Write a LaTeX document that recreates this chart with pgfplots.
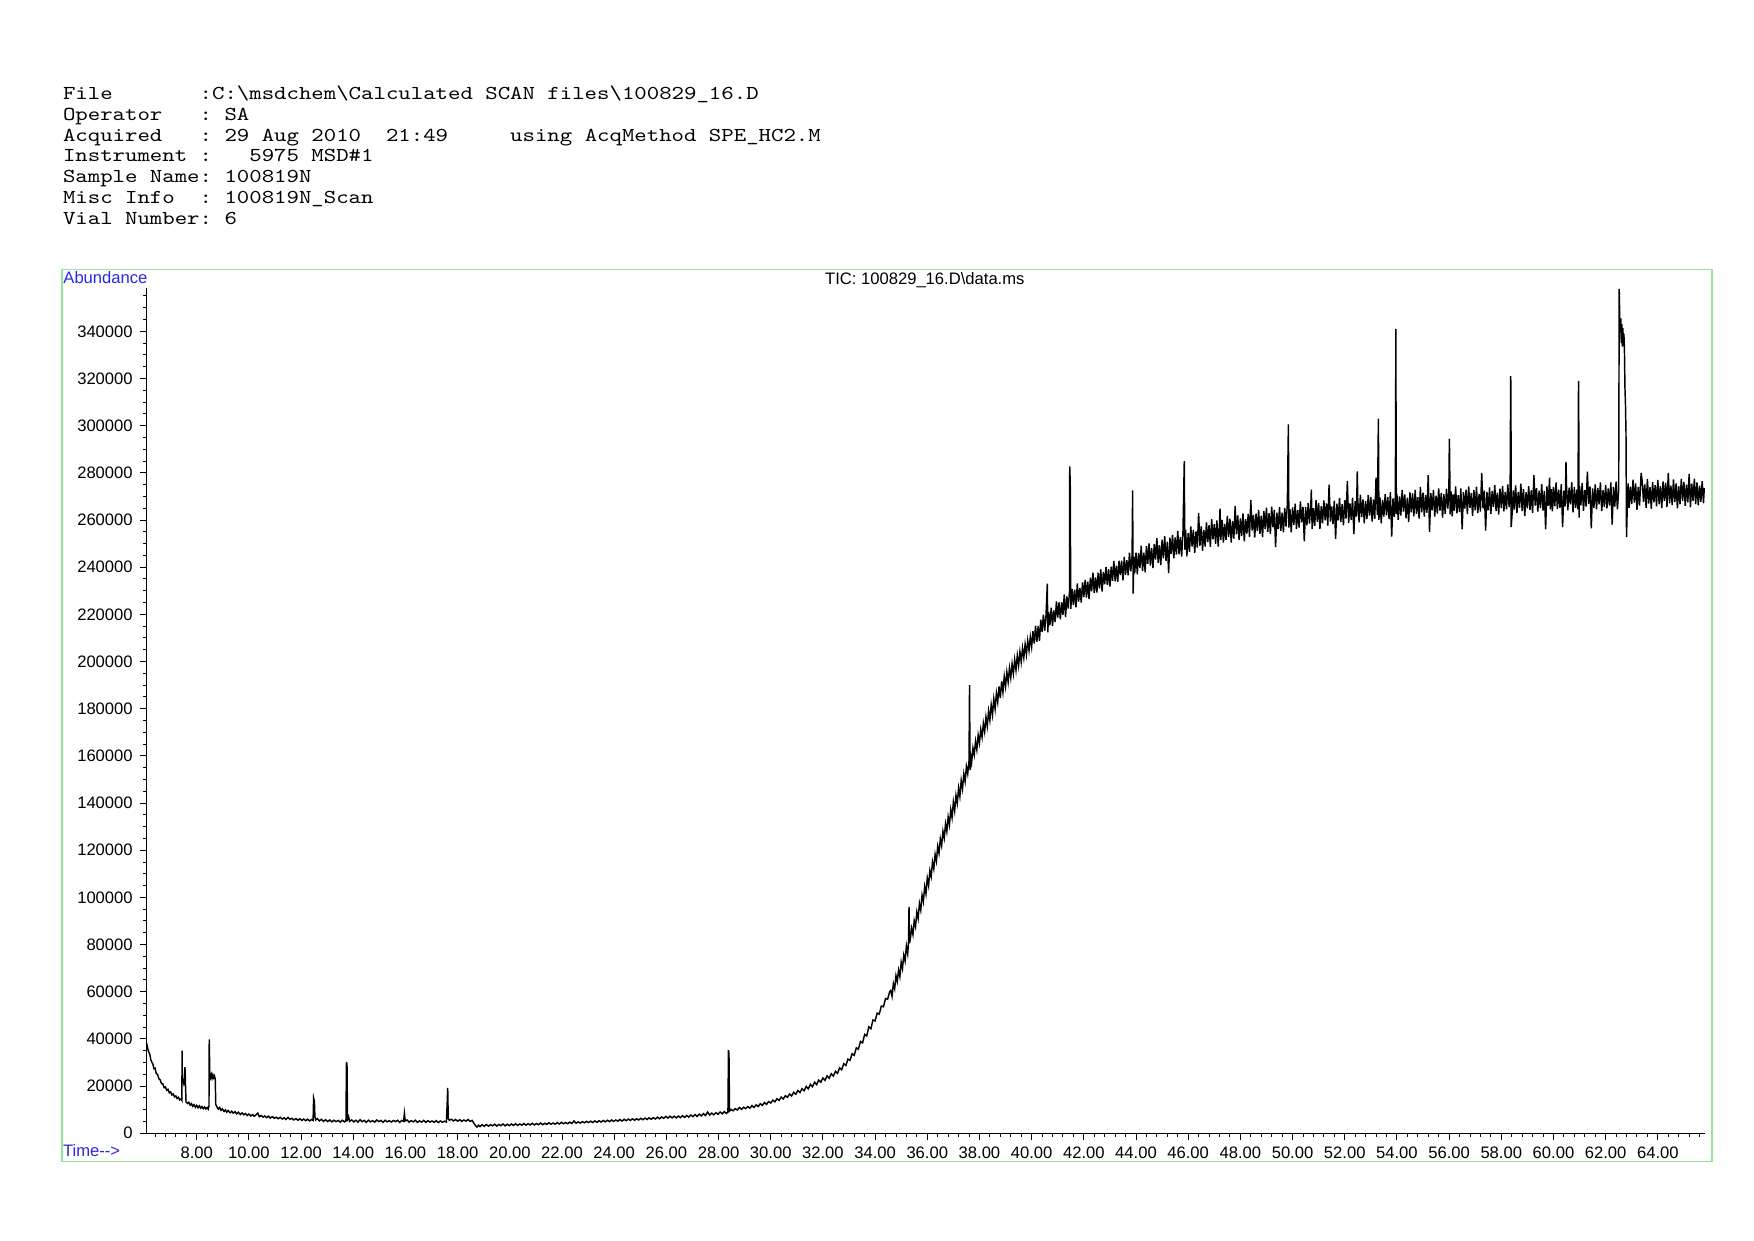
\documentclass[border=0pt]{standalone}
\usepackage{pgfplots}
\pgfplotsset{compat=1.18}
\usepackage{fontspec}
\setmainfont{Liberation Sans}

\definecolor{frameGreen}{RGB}{150,228,150}
\definecolor{lblBlue}{RGB}{40,40,225}

\newcommand{\hdr}[1]{\scalebox{1.2}[1.0]{\ttfamily\fontsize{9.5}{10}\selectfont #1}}

\begin{document}
\begin{tikzpicture}[x=1mm,y=1mm]
% page area (A4 landscape)
\path (0,0) rectangle (297,210);

% header block
\begin{scope}[every node/.style={anchor=base west, inner sep=0pt}]
\node at (10.6,193.2) {\hdr{File~~~~~~~:C:\textbackslash msdchem\textbackslash Calculated~SCAN~files\textbackslash 100829\_16.D}};
\node at (10.6,189.66) {\hdr{Operator~~~:~SA}};
\node at (10.6,186.12) {\hdr{Acquired~~~:~29~Aug~2010~~21:49~~~~~using~AcqMethod~SPE\_HC2.M}};
\node at (10.6,182.58) {\hdr{Instrument~:~~~5975~MSD\#1}};
\node at (10.6,179.04) {\hdr{Sample~Name:~100819N}};
\node at (10.6,175.50) {\hdr{Misc~Info~~:~100819N\_Scan}};
\node at (10.6,171.96) {\hdr{Vial~Number:~6}};
\end{scope}

% green frame
\draw[frameGreen, line width=0.6pt] (10.5,13.38) rectangle (289.89,164.42);

\node[anchor=base west, inner sep=0pt, text=lblBlue, font=\fontsize{8}{9.6}\selectfont] at (10.67,162.0) {Abundance};
\node[anchor=base west, inner sep=0pt, text=lblBlue, font=\fontsize{8}{9.6}\selectfont] at (10.62,14.22) {Time-{}-{}>};
\node[anchor=base, inner sep=0pt, font=\fontsize{8}{9.6}\selectfont] at (156.6,161.9) {TIC: 100829\_16.D\textbackslash data.ms};

\begin{axis}[
  at={(24.81mm,18.12mm)}, anchor=south west,
  scale only axis, width=263.9mm, height=143.08mm,
  xmin=6.076, xmax=65.81, ymin=0, ymax=358300,
  axis lines=left, axis line style={-, line width=0.5pt},
  tick align=outside,
  major tick length=1.1mm, minor tick length=0.6mm,
  every tick/.style={black, line width=0.45pt},
  xtick={8,10,...,64},
  minor xtick={6.4,6.8,...,65.6},
  ytick={0,20000,...,340000},
  minor ytick={5000,10000,...,355000},
  scaled y ticks=false,
  /pgf/number format/assume math mode=true,
  tick label style={font=\fontsize{8}{9.6}\selectfont},
  xticklabel style={/pgf/number format/.cd, fixed, fixed zerofill, precision=2},
  yticklabel style={/pgf/number format/.cd, fixed, 1000 sep={}},
  clip=false,
]
\addplot[black, line width=0.7pt, mark=none] coordinates {
(6.08,38200) (6.12,36000) (6.16,34500) (6.20,33600) (6.24,31200) (6.28,30100) (6.32,29300) (6.36,27400)
(6.40,27600) (6.45,25300) (6.50,24900) (6.55,23100) (6.60,22600) (6.65,21000) (6.70,20900) (6.75,19300)
(6.80,19600) (6.85,18200) (6.90,18600) (6.95,17100) (7.00,17500) (7.05,16200) (7.10,16600) (7.15,15400)
(7.20,15800) (7.25,14700) (7.30,15200) (7.35,14100) (7.40,14600) (7.43,14000) (7.44,35000) (7.45,21500)
(7.48,22300) (7.51,20800) (7.53,21600) (7.55,28000) (7.57,20500) (7.59,13200) (7.65,12600) (7.70,13100)
(7.75,11900) (7.80,12500) (7.85,11400) (7.90,12100) (7.95,11000) (8.00,11800) (8.05,10800) (8.10,11600)
(8.15,10600) (8.20,11300) (8.25,10400) (8.30,11100) (8.35,10300) (8.40,10900) (8.44,10200) (8.47,11500)
(8.48,39800) (8.50,25600) (8.53,23600) (8.56,24900) (8.59,23300) (8.62,24700) (8.65,23500) (8.68,24300)
(8.71,22900) (8.73,12200) (8.78,11000) (8.83,10200) (8.88,10900) (8.93,9700) (8.98,10300) (9.05,9200)
(9.10,9900) (9.15,8900) (9.20,9600) (9.28,8700) (9.34,9300) (9.40,8500) (9.47,9100) (9.53,8200)
(9.60,8900) (9.67,7900) (9.74,8600) (9.80,7800) (9.87,8300) (9.94,7500) (10.00,8100) (10.07,7300)
(10.14,7900) (10.20,7200) (10.27,7700) (10.34,8500) (10.40,7000) (10.47,7500) (10.54,6800) (10.61,7300)
(10.68,6600) (10.75,7200) (10.82,6400) (10.90,7000) (10.97,6300) (11.05,6800) (11.12,6100) (11.20,6700)
(11.28,6000) (11.35,6500) (11.42,5800) (11.50,6700) (11.57,5900) (11.65,6300) (11.72,5600) (11.80,6200)
(11.88,5500) (11.95,6100) (12.03,5400) (12.10,6000) (12.18,5300) (12.25,5900) (12.33,5200) (12.40,5800)
(12.46,5400) (12.48,14900) (12.51,13500) (12.53,7000) (12.56,5600) (12.62,6200) (12.70,5200) (12.78,5900)
(12.86,5000) (12.94,5700) (13.02,4900) (13.10,5600) (13.18,4800) (13.26,5500) (13.34,4900) (13.42,5400)
(13.50,4700) (13.58,5500) (13.66,4800) (13.72,5300) (13.74,30200) (13.76,29000) (13.78,5900) (13.82,7000)
(13.86,5000) (13.94,5600) (14.02,4800) (14.10,5500) (14.18,4700) (14.26,5700) (14.34,4900) (14.42,5400)
(14.50,4600) (14.58,5500) (14.66,4800) (14.74,5300) (14.82,4700) (14.90,5600) (14.98,4900) (15.06,5400)
(15.14,4600) (15.22,5500) (15.30,4800) (15.38,5300) (15.46,4700) (15.54,5400) (15.62,4900) (15.70,5500)
(15.78,4600) (15.86,5400) (15.93,5000) (15.96,8400) (15.99,5200) (16.06,5600) (16.14,4700) (16.22,5300)
(16.30,4800) (16.38,5500) (16.46,4600) (16.54,5200) (16.62,4700) (16.70,5400) (16.78,4600) (16.86,5300)
(16.94,4700) (17.02,5200) (17.10,4600) (17.18,5300) (17.26,4500) (17.34,5200) (17.42,4600) (17.50,5100)
(17.57,4700) (17.60,12800) (17.62,19200) (17.64,6200) (17.68,5500) (17.76,5900) (17.84,5200) (17.92,5800)
(18.00,5100) (18.08,5700) (18.16,5000) (18.24,5600) (18.32,5100) (18.40,5800) (18.48,5000) (18.56,5400)
(18.62,4200) (18.68,3300) (18.74,2600) (18.80,3400) (18.86,2800) (18.94,3600) (19.02,2900) (19.10,3700)
(19.18,3000) (19.26,3600) (19.34,3100) (19.42,3800) (19.50,3000) (19.58,3700) (19.66,3200) (19.74,3900)
(19.82,3100) (19.90,3800) (19.98,3200) (20.06,3900) (20.14,3300) (20.22,4000) (20.30,3300) (20.38,3900)
(20.46,3400) (20.54,4100) (20.62,3400) (20.70,4000) (20.78,3500) (20.86,4200) (20.94,3500) (21.02,4100)
(21.10,3600) (21.18,4300) (21.26,3600) (21.34,4200) (21.42,3700) (21.50,4400) (21.58,3800) (21.66,4300)
(21.74,3800) (21.82,4500) (21.90,3900) (21.98,4600) (22.06,4000) (22.14,4500) (22.22,4000) (22.30,4700)
(22.38,4100) (22.46,5200) (22.54,4200) (22.62,4800) (22.70,4300) (22.78,4900) (22.86,4400) (22.94,5000)
(23.02,4500) (23.10,5100) (23.18,4500) (23.26,5200) (23.34,4600) (23.42,5300) (23.50,4700) (23.58,5400)
(23.66,4800) (23.74,5500) (23.82,4900) (23.90,5600) (23.98,5000) (24.06,5600) (24.14,5100) (24.22,5800)
(24.30,5100) (24.38,5900) (24.46,5300) (24.54,6000) (24.62,5400) (24.70,6100) (24.78,5500) (24.86,6100)
(24.94,5600) (25.02,6300) (25.10,5700) (25.18,6400) (25.26,5800) (25.34,6500) (25.42,5900) (25.50,6600)
(25.58,6000) (25.66,6800) (25.74,6100) (25.82,6900) (25.90,6300) (25.98,7100) (26.06,6400) (26.14,7200)
(26.22,6500) (26.30,7200) (26.38,6500) (26.46,7300) (26.54,6600) (26.62,7400) (26.70,6700) (26.78,7500)
(26.86,6800) (26.94,7700) (27.02,7000) (27.10,7900) (27.18,7100) (27.26,8100) (27.34,7300) (27.42,8300)
(27.50,7500) (27.58,9000) (27.66,7700) (27.74,8500) (27.82,7800) (27.90,8700) (27.98,8000) (28.06,9000)
(28.14,8200) (28.22,9100) (28.30,8400) (28.36,9000) (28.38,35200) (28.40,33800) (28.42,9400) (28.48,10100)
(28.56,9500) (28.64,10400) (28.72,9800) (28.80,10900) (28.88,10100) (28.96,11000) (29.04,10400) (29.12,11300)
(29.20,10600) (29.28,11700) (29.36,10900) (29.44,12000) (29.52,11300) (29.60,12500) (29.68,11800) (29.76,13000)
(29.84,12200) (29.92,13400) (30.00,12800) (30.08,14000) (30.16,13300) (30.24,14600) (30.32,13900) (30.40,15300)
(30.48,14500) (30.56,15900) (30.64,15200) (30.72,16600) (30.80,15800) (30.88,17300) (30.96,16500) (31.04,18100)
(31.12,17200) (31.20,18900) (31.28,18000) (31.36,19800) (31.44,18800) (31.52,20700) (31.60,19700) (31.68,21600)
(31.76,20600) (31.84,22500) (31.92,21600) (32.00,23400) (32.08,22400) (32.16,24300) (32.24,23300) (32.32,25200)
(32.40,24200) (32.48,26200) (32.56,25400) (32.64,27700) (32.72,26900) (32.80,29500) (32.88,28700) (32.96,31400)
(33.04,30900) (33.12,33700) (33.20,33000) (33.28,36200) (33.36,35600) (33.44,38900) (33.52,38300) (33.60,41900)
(33.68,41200) (33.76,45100) (33.84,44300) (33.92,48000) (34.00,47600) (34.08,50900) (34.16,50500) (34.24,53900)
(34.32,53600) (34.40,57100) (34.48,56800) (34.56,60000)
(34.60,60500) (34.65,58000) (34.70,63400) (34.75,61200) (34.80,66800) (34.85,64300) (34.90,69100) (34.95,66400)
(35.00,72600) (35.05,69800) (35.10,75500) (35.15,73000) (35.20,79400) (35.25,76100) (35.28,81000) (35.30,96000)
(35.32,80500) (35.35,82300) (35.40,86900) (35.45,84200) (35.50,90100) (35.55,87600) (35.60,93800) (35.65,91000)
(35.70,97400) (35.75,94600) (35.80,100900) (35.85,98100) (35.90,104600) (35.95,101500) (36.00,108200) (36.05,105000)
(36.10,111400) (36.15,108800) (36.20,115000) (36.25,112100) (36.30,118200) (36.35,115300) (36.40,121600) (36.45,118700)
(36.50,124800) (36.55,121900) (36.60,128000) (36.65,125100) (36.70,131200) (36.75,127900) (36.80,134100) (36.85,130700)
(36.90,137200) (36.95,133800) (37.00,140500) (37.05,136600) (37.10,143200) (37.15,139900) (37.20,146400) (37.25,142800)
(37.30,149600) (37.35,146000) (37.40,152300) (37.45,149100) (37.50,155500) (37.55,152400) (37.60,158000) (37.62,190000)
(37.64,154000) (37.67,159500) (37.70,157200) (37.75,163300) (37.80,160400) (37.85,166200) (37.90,162600) (37.95,168800)
(38.00,165400) (38.05,171200) (38.10,167900) (38.15,173800) (38.20,170200) (38.25,176500) (38.30,172600) (38.35,179000)
(38.40,175100) (38.45,181600) (38.50,177400) (38.55,184200) (38.60,179900) (38.65,186600) (38.70,182800) (38.75,189400)
(38.80,184500) (38.85,191600) (38.90,187000) (38.95,193700) (39.00,189400) (39.05,195500) (39.10,191300) (39.15,197200)
(39.20,193100) (39.25,199000) (39.30,194800) (39.35,200800) (39.40,196400) (39.45,202600) (39.50,198300) (39.55,204100)
(39.60,199800) (39.65,205700) (39.70,201600) (39.75,207300) (39.80,203000) (39.85,208900) (39.90,204700) (39.95,210400)
(40.00,206200)
(40.05,212900) (40.10,207600) (40.15,215200) (40.20,208300) (40.25,215100) (40.30,208800) (40.35,217700) (40.40,212500)
(40.45,219900) (40.50,213000) (40.55,219400) (40.60,233000) (40.62,212400) (40.65,221000) (40.70,215400) (40.75,222800)
(40.80,215100) (40.85,221700) (40.90,216700) (40.95,225500) (41.00,218600) (41.05,225100) (41.10,217900) (41.15,225200)
(41.20,219800) (41.25,228400) (41.30,218800) (41.35,227600) (41.40,222500) (41.45,229500) (41.46,282700) (41.48,275700)
(41.50,222300) (41.55,230800) (41.60,223900) (41.65,230500) (41.70,223000) (41.75,233100) (41.80,225400) (41.85,231200)
(41.90,225000) (41.95,233500) (42.00,227300) (42.05,234600) (42.10,227100) (42.15,233900) (42.20,226500) (42.25,235500)
(42.30,229800) (42.35,237700) (42.40,229000) (42.45,235700) (42.50,229200) (42.55,237700) (42.60,231000) (42.65,239100)
(42.70,229700) (42.75,238000) (42.80,232700) (42.85,240100) (42.90,232500) (42.95,239100) (43.00,231800) (43.05,240200)
(43.10,234200) (43.15,242700) (43.20,234000) (43.25,240600) (43.30,233800) (43.35,242700) (43.40,236700) (43.45,242800)
(43.50,234400) (43.55,244400) (43.60,236700) (43.65,243000) (43.70,236500) (43.75,246200) (43.80,238200) (43.85,245100)
(43.87,272600) (43.89,228800) (43.92,244500) (43.95,237400) (44.00,246200) (44.05,237000) (44.10,246000) (44.15,239600)
(44.20,249100) (44.25,238500) (44.30,246200) (44.35,237800) (44.40,248900) (44.45,241400) (44.50,250100) (44.55,240700)
(44.60,248200) (44.65,239600) (44.70,249900) (44.75,243200) (44.80,252300) (44.85,241800) (44.90,249300) (44.95,240900)
(45.00,251700) (45.05,243800) (45.10,253200) (45.15,242700) (45.20,250800) (45.25,237500) (45.30,252500) (45.35,245700)
(45.40,253700) (45.45,243800) (45.50,252600) (45.55,245300) (45.60,255400) (45.65,245400) (45.70,252700) (45.75,244500)
(45.80,255000) (45.85,285000) (45.87,247400) (45.90,255900) (45.95,244600) (46.00,254400) (46.05,246500) (46.10,257300)
(46.15,248700) (46.20,255800) (46.25,246100) (46.30,255200) (46.35,248300) (46.40,263000) (46.45,249100) (46.50,257300)
(46.55,246900) (46.60,255800) (46.65,248700) (46.70,259000) (46.75,250600) (46.80,257800) (46.85,248600) (46.90,260400)
(46.95,251800) (47.00,258200) (47.05,249900) (47.10,259800) (47.15,248700) (47.20,258400) (47.22,264800) (47.25,251600)
(47.30,260000) (47.35,250400) (47.40,258300) (47.45,251600) (47.50,261700) (47.55,252900) (47.60,260600) (47.65,250400)
(47.70,259500) (47.75,252100) (47.80,266000) (47.85,253900) (47.90,261900) (47.95,251500) (48.00,260700) (48.05,253200)
(48.10,262800) (48.15,251000) (48.20,260400) (48.25,254200) (48.30,262600) (48.35,252900) (48.40,268500) (48.45,255500)
(48.50,262200) (48.55,252600) (48.60,262700) (48.65,255300) (48.70,264300) (48.75,254100) (48.80,261800) (48.85,252800)
(48.90,263900) (48.95,256200) (49.00,265200) (49.05,255000) (49.10,262900) (49.15,254100) (49.20,265700) (49.25,256900)
(49.30,264300) (49.35,248500) (49.40,263100) (49.45,256200) (49.50,265400) (49.55,255400) (49.60,263100) (49.65,254800)
(49.70,265100) (49.75,257200) (49.80,266900) (49.84,300500) (49.86,256800) (49.90,264600) (49.95,254800) (50.00,265300)
(50.05,258000) (50.10,266900) (50.15,256200) (50.20,264200) (50.25,256800) (50.30,267900) (50.35,259000) (50.40,265600)
(50.45,251000) (50.50,265400) (50.55,257700) (50.60,267100) (50.65,258500) (50.70,266500) (50.72,272900) (50.75,256300)
(50.80,265000) (50.85,257500) (50.90,268400) (50.95,259200) (51.00,267200) (51.05,256300) (51.10,265900) (51.15,258600)
(51.20,268300) (51.25,259900) (51.30,267000) (51.35,257600) (51.40,275000) (51.45,259300) (51.50,265800) (51.55,258300)
(51.60,268200) (51.65,252000) (51.70,266900) (51.75,259900) (51.80,269400) (51.85,259100) (51.90,266700) (51.95,257700)
(52.00,268400) (52.05,260600) (52.10,276500) (52.15,258800) (52.20,267000) (52.25,260100) (52.30,269500) (52.35,254000)
(52.40,268000) (52.45,261500) (52.48,280600) (52.50,268900) (52.55,259000) (52.60,270700) (52.65,261200) (52.70,268700)
(52.75,258600) (52.80,268000) (52.85,260400) (52.90,270500) (52.95,261900) (53.00,269800) (53.05,259300) (53.10,268700)
(53.15,260500) (53.20,278000) (53.25,262200) (53.29,303000) (53.31,260100) (53.35,269600) (53.40,258600) (53.45,268500)
(53.50,261500) (53.55,271000) (53.60,262000) (53.65,269700) (53.70,260400) (53.75,271800) (53.80,253000) (53.85,269200)
(53.90,261300) (53.94,270400) (53.96,341000) (53.97,285600) (53.98,262500) (54.00,271000) (54.05,260100) (54.10,270000)
(54.15,261900) (54.20,272800) (54.25,263600) (54.30,270800) (54.35,260700) (54.40,269500) (54.45,259100) (54.50,271700)
(54.55,263300) (54.60,271300) (54.65,261600) (54.70,272800) (54.75,262600) (54.80,269700) (54.85,260600) (54.90,274000)
(54.95,263300) (55.00,271600) (55.05,261500) (55.10,270500) (55.15,263100) (55.20,279000) (55.25,255000) (55.30,271400)
(55.35,264100) (55.40,272800) (55.45,261500) (55.50,270300) (55.55,262700) (55.60,273400) (55.65,264000) (55.70,271500)
(55.75,261000) (55.80,271000) (55.85,262600) (55.90,273300) (55.95,264800) (55.99,271600) (56.01,294500) (56.02,288000)
(56.04,262400) (56.08,272100) (56.12,261600) (56.16,270900) (56.20,263900) (56.25,274200) (56.30,262800) (56.35,270500)
(56.40,263400) (56.45,273400) (56.50,256000) (56.55,271800) (56.60,264800) (56.65,272900) (56.70,262500) (56.75,274200)
(56.80,265200) (56.85,271400) (56.90,261800) (56.95,272700) (57.00,264100) (57.05,274100) (57.10,262900) (57.15,271100)
(57.20,263600) (57.25,280000) (57.30,264900) (57.35,272400) (57.40,255500) (57.45,271900) (57.50,264100) (57.55,273800)
(57.60,262600) (57.65,272300) (57.70,265600) (57.75,274800) (57.80,263800) (57.85,271600) (57.90,262300) (57.95,273300)
(58.00,265100) (58.05,274400) (58.10,263700) (58.15,271900) (58.20,264500) (58.25,275100) (58.30,265500) (58.34,273200)
(58.36,321000) (58.37,316500) (58.38,257000) (58.42,263400) (58.46,272500) (58.50,264400) (58.55,274700) (58.60,262900)
(58.65,271900) (58.70,265200) (58.75,275400) (58.80,263800) (58.85,273100) (58.90,261700) (58.95,271800) (59.00,265000)
(59.05,274400) (59.10,264300) (59.15,272600) (59.20,263000) (59.25,279000) (59.30,266100) (59.35,273500) (59.40,263600)
(59.45,272400) (59.50,265100) (59.55,275200) (59.60,264000) (59.65,272300) (59.70,256000) (59.75,274200) (59.80,266000)
(59.85,278000) (59.88,264500) (59.92,273100) (59.96,263700) (60.00,274000) (60.05,265800) (60.10,275900) (60.15,264600)
(60.20,272900) (60.25,265200) (60.30,275200) (60.35,257000) (60.40,272400) (60.45,265800) (60.48,284600) (60.50,274600)
(60.55,264100) (60.60,273700) (60.65,266600) (60.70,276000) (60.75,263200) (60.80,274000) (60.85,265200) (60.90,272900)
(60.94,264500) (60.96,319000) (60.97,301500) (60.98,261000) (61.00,274500) (61.05,266200) (61.10,275600) (61.15,263900)
(61.20,272700) (61.25,265700) (61.30,280500) (61.35,266800) (61.40,274200) (61.45,256500) (61.50,273400) (61.55,265100)
(61.60,275100) (61.65,264500) (61.70,273600) (61.75,266600) (61.80,275900) (61.85,263800) (61.90,272600) (61.95,265500)
(62.00,274900) (62.05,264900) (62.10,273400) (62.15,266100) (62.20,275900) (62.25,258000) (62.30,274000) (62.35,265700)
(62.40,276300) (62.45,264500) (62.50,272700) (62.52,358000) (62.54,346000) (62.56,339500) (62.58,345500) (62.60,335000)
(62.62,343000) (62.64,333500) (62.66,341500) (62.68,334000) (62.70,339000) (62.72,332000) (62.74,316000) (62.76,309000)
(62.78,297000) (62.80,252800) (62.83,266000) (62.86,275500) (62.90,265200) (62.95,274100) (63.00,266800) (63.05,277100)
(63.10,267400) (63.15,275500) (63.20,264300) (63.25,274000) (63.30,266100) (63.36,280000) (63.40,276600) (63.45,267700)
(63.50,275100) (63.55,265200) (63.60,277400) (63.65,267000) (63.70,273900) (63.75,264700) (63.80,276000) (63.85,267500)
(63.90,274800) (63.95,265800) (64.00,277000) (64.05,266700) (64.10,274300) (64.15,265100) (64.20,276400) (64.25,268100)
(64.30,275800) (64.35,265500) (64.40,280000) (64.45,267100) (64.50,274600) (64.55,266300) (64.60,277200) (64.65,267600)
(64.70,275500) (64.75,264900) (64.80,274300) (64.85,266700) (64.90,277500) (64.95,268100) (65.00,276200) (65.05,266000)
(65.10,275000) (65.15,267500) (65.20,279500) (65.25,265400) (65.30,275400) (65.35,268100) (65.40,277500) (65.45,266800)
(65.50,275900) (65.55,266200) (65.60,274600) (65.65,267700) (65.70,276500) (65.75,267100) (65.78,273500)
};
\end{axis}
\end{tikzpicture}
\end{document}
